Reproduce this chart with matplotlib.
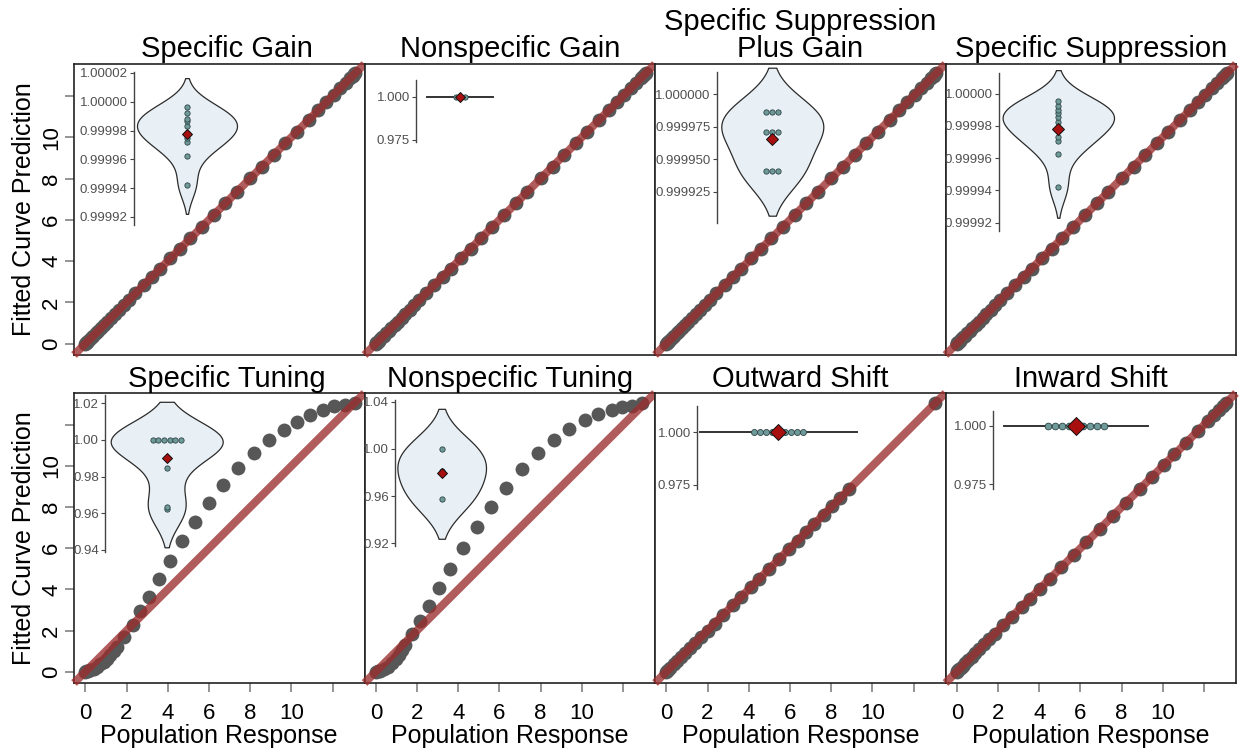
import numpy as np
import matplotlib
matplotlib.use("Agg")
import matplotlib.pyplot as plt

plt.rcParams['font.family'] = ['Liberation Sans', 'DejaVu Sans']

W, H = 1239, 750

# ---- main scatter data (population response vs fitted curve prediction) ----
gain_resp = [0.0, 0.01, 0.03, 0.06, 0.1, 0.15, 0.22, 0.3, 0.39, 0.5, 0.62, 0.76, 0.91,
             1.07, 1.25, 1.44, 1.64, 1.86, 2.1, 2.43, 2.83, 3.24, 3.64, 4.13, 4.61,
             5.10, 5.66, 6.23, 6.80, 7.36, 8.01, 8.58, 9.14, 9.71, 10.27, 10.84, 11.3,
             11.7, 12.05, 12.38, 12.65, 12.85, 12.98, 13.06, 13.1]
gain_fit = list(gain_resp)

tune_resp = [0, 0.05, 0.12, 0.24, 0.4, 0.57, 0.72, 0.89, 1.05, 1.21, 1.38, 1.54,
             1.89, 2.3, 2.64, 3.07, 3.56, 4.13, 4.69, 5.34, 5.99, 6.68,
             7.41, 8.17, 8.9, 9.63, 10.28, 10.92, 11.54, 12.06, 12.62, 13.1]
tune_fit = [0, 0.01, 0.02, 0.08, 0.14, 0.24, 0.35, 0.48, 0.64, 0.81, 1.0, 1.21,
            1.69, 2.26, 2.94, 3.63, 4.52, 5.4, 6.34, 7.29, 8.19, 9.1,
            9.92, 10.65, 11.26, 11.74, 12.15, 12.5, 12.71, 12.9, 12.98, 13.06]

nstune_resp = [0, 0.1, 0.2, 0.4, 0.6, 0.8, 0.96, 1.12, 1.28, 1.44,
               1.77, 2.13, 2.57, 3.07, 3.58, 4.22, 4.9, 5.57, 6.34, 7.09,
               7.87, 8.67, 9.39, 10.16, 10.8, 11.48, 11.96, 12.44, 12.92]
nstune_fit = [0, 0.02, 0.05, 0.13, 0.25, 0.4, 0.6, 0.81, 1.05, 1.29,
              1.81, 2.47, 3.18, 4.06, 5.0, 6.02, 7.05, 8.03, 8.95, 9.87,
              10.65, 11.26, 11.81, 12.23, 12.53, 12.74, 12.87, 12.94, 13.06]

outward_resp = [0, 0.03, 0.1, 0.2, 0.35, 0.5, 0.7, 0.9, 1.15, 1.4, 1.7, 2.0, 2.34,
                2.74, 3.23, 3.63, 4.11, 4.51, 5.0, 5.48, 5.97, 6.37, 6.77, 7.18,
                7.63, 8.06, 8.43, 8.87, 13.06]
outward_fit = list(outward_resp)

inward_resp = [0, 0.02, 0.06, 0.12, 0.2, 0.3, 0.42, 0.56, 0.72, 0.9, 1.1, 1.33,
               1.58, 1.85, 2.26, 2.66, 3.15, 3.55, 4.03, 4.52, 5.08, 5.69, 6.29,
               6.93, 7.58, 8.22, 8.87, 9.47, 10.05, 10.56, 11.13, 11.69, 12.17,
               12.5, 12.74, 12.92, 13.06]
inward_fit = list(inward_resp)

# ---- inset data (fitted ratio per fit) ----
sg_ratio = [0.9999963, 0.9999923, 0.9999881, 0.9999865, 0.9999833, 0.999978,
            0.9999747, 0.9999723, 0.9999626, 0.9999423]
ng_ratio = [1.0, 1.0, 1.0]
ssg_ratio = [0.999986, 0.999986, 0.999986, 0.9999707, 0.9999707, 0.9999707,
             0.999941, 0.999941, 0.999941]
ss_ratio = [0.9999953, 0.9999926, 0.9999899, 0.9999878, 0.9999858, 0.9999825,
            0.9999786, 0.9999734, 0.9999709, 0.9999623, 0.9999423]
st_ratio = [1.0, 1.0, 1.0, 1.0, 1.0, 1.0, 0.9845, 0.9637, 0.9623]
nt_ratio = [1.0, 0.9815, 0.9578]
os_ratio = [1.0] * 9
is_ratio = [1.0] * 9

titles = ["Specific Gain", "Nonspecific Gain", "Specific Suppression\nPlus Gain",
          "Specific Suppression", "Specific Tuning", "Nonspecific Tuning",
          "Outward Shift", "Inward Shift"]
series = [(gain_resp, gain_fit), (gain_resp, gain_fit), (gain_resp, gain_fit),
          (gain_resp, gain_fit), (tune_resp, tune_fit), (nstune_resp, nstune_fit),
          (outward_resp, outward_fit), (inward_resp, inward_fit)]

fig = plt.figure(figsize=(W / 100, H / 100), dpi=100)


def px_axes(left, top, right, bottom):
    return fig.add_axes([left / W, 1 - bottom / H, (right - left) / W, (bottom - top) / H])


col_left = [74, 364.5, 655, 945.5]
col_w = 290.5
rows = [(64, 355), (393, 683)]
lim = (-0.55, 13.55)

for i, (title, (xs, ys)) in enumerate(zip(titles, series)):
    r, c = divmod(i, 4)
    top, bot = rows[r]
    ax = px_axes(col_left[c], top, col_left[c] + col_w, bot)
    ax.scatter(xs, ys, s=100, color='#575757', linewidths=0, zorder=2)
    ax.plot(lim, lim, color='#9c2e2e', alpha=0.78, lw=5.8, solid_capstyle='butt',
            clip_on=False, zorder=3)
    ax.set_xlim(lim)
    ax.set_ylim(lim)
    for s in ax.spines.values():
        s.set_linewidth(1.2)
        s.set_color('#222222')
    ax.tick_params(direction='out', length=6.5, width=1.1, color='#777777',
                   labelsize=16)
    ax.tick_params(axis='x', pad=8)
    ax.tick_params(axis='y', pad=2)
    ax.set_title(title, fontsize=21, pad=5 if r == 0 else 3, linespacing=0.95,
                 x=0.525 if c == 0 else 0.5)
    if c == 0:
        ax.set_yticks([0, 2, 4, 6, 8, 10, 12])
        ax.set_yticklabels(['0', '2', '4', '6', '8', '10', ''], rotation=90, va='center')
    else:
        ax.set_yticks([])
    if r == 1:
        ax.set_xticks([0, 2, 4, 6, 8, 10, 12])
        ax.set_xticklabels(['0', '2', '4', '6', '8', '10', ''])
        ax.set_xlabel('Population Response', fontsize=18, labelpad=0)
    else:
        ax.set_xticks([])

for top, bot in rows:
    fig.text(24 / W, 1 - (top + bot) / 2 / H, 'Fitted Curve Prediction', rotation=90,
             ha='center', va='center', fontsize=18)


def draw_inset(sx, top, bottom, cx, half, ylim, ticks, fmt, vals,
               dot_px, dia_px, gap_px, bw_adj=1.0):
    right = cx + half + 6
    ax = px_axes(sx, top, right, bottom)
    ax.set_xlim(0, right - sx)
    ax.set_ylim(ylim)
    ax.patch.set_visible(False)
    for s in ['top', 'right', 'bottom']:
        ax.spines[s].set_visible(False)
    ax.spines['left'].set_color('#444444')
    ax.spines['left'].set_linewidth(1.0)
    ax.set_xticks([])
    ax.set_yticks(ticks)
    ax.set_yticklabels([fmt % t for t in ticks])
    ax.tick_params(axis='y', length=3, width=0.8, color='#444444', labelsize=9.5,
                   labelcolor='#505050', pad=1.5)
    v = np.asarray(vals, dtype=float)
    c = cx - sx
    if v.std() > 0:
        bw = v.std(ddof=1) * len(v) ** (-1 / 5) * bw_adj
        grid = np.linspace(v.min() - 2 * bw, v.max() + 2 * bw, 300)
        dens = np.exp(-0.5 * ((grid[:, None] - v[None, :]) / bw) ** 2).sum(axis=1)
        w = dens / dens.max() * half
        ax.fill_betweenx(grid, c - w, c + w, facecolor='#e8f0f6', edgecolor='#2b2b2b',
                         lw=0.9, clip_on=False, zorder=1)
    else:
        ax.plot([c - half, c + half], [v[0], v[0]], color='#333333', lw=1.4,
                clip_on=False, zorder=1)
    uniq, counts = np.unique(v, return_counts=True)
    dx, dy = [], []
    for u, k in zip(uniq, counts):
        for j in range(k):
            dx.append(c + (j - (k - 1) / 2) * gap_px)
            dy.append(u)
    ax.plot(dx, dy, 'o', ms=dot_px * 0.72, mfc='#6e9a9a', mec='#2e4444', mew=0.6,
            clip_on=False, zorder=3)
    ax.plot([c], [v.mean()], 'D', ms=dia_px * 0.72 / 1.3, mfc='#a81010', mec='#111111',
            mew=0.7, clip_on=False, zorder=4)


draw_inset(134, 71.7, 225, 187, 50, (0.9999144, 1.0000209),
           [0.99992, 0.99994, 0.99996, 0.99998, 1.0, 1.00002], '%.5f',
           sg_ratio, 5.3, 10, 5.5)
draw_inset(416, 80, 142, 460, 33, (0.9738, 1.0096), [0.975, 1.0], '%.3f',
           ng_ratio, 5.3, 10, 4.5)
draw_inset(716.7, 71.7, 223, 772.3, 51, (0.9999009, 1.0000174),
           [0.999925, 0.99995, 0.999975, 1.0], '%.6f', ssg_ratio, 5.3, 10.5, 6, 1.35)
draw_inset(999, 73.3, 230.7, 1058.3, 55.7, (0.999915, 1.0000126),
           [0.99992, 0.99994, 0.99996, 0.99998, 1.0], '%.5f',
           ss_ratio, 5.3, 11.5, 5.5)
draw_inset(105, 395, 551.7, 166.7, 56, (0.93907, 1.02453),
           [0.94, 0.96, 0.98, 1.0, 1.02], '%.2f', st_ratio, 5.3, 10, 5.6)
draw_inset(395, 400, 545.7, 441.7, 44.3, (0.91797, 1.04144),
           [0.92, 0.96, 1.0, 1.04], '%.2f', nt_ratio, 5.3, 9, 5.5)
draw_inset(697.3, 406, 489, 778.3, 78.5, (0.9731, 1.01248), [0.975, 1.0], '%.3f',
           os_ratio, 6, 15, 6.2)
draw_inset(993.3, 410.7, 489.3, 1076, 71.7, (0.97273, 1.00643), [0.975, 1.0], '%.3f',
           is_ratio, 6.7, 16, 7)

fig.savefig('out.png', dpi=100)
